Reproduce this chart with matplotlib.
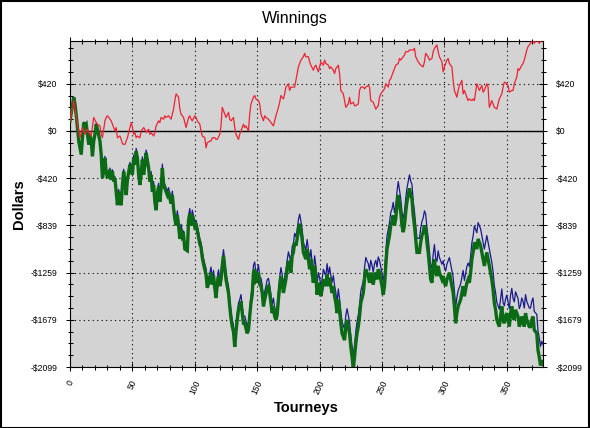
import matplotlib
matplotlib.use('Agg')
import matplotlib.pyplot as plt
from matplotlib.ticker import FixedLocator, FixedFormatter
from matplotlib.patches import Rectangle

plt.rcParams['font.family'] = ['Liberation Sans', 'DejaVu Sans']

# ---------------- data ----------------
# Net / gross winnings, tourney numbers shared by the green and blue series
tourney = [
    0, 3, 4, 6, 7, 9, 10, 11, 12, 13,
    14, 15, 16, 17, 18, 19, 20, 21, 22, 24,
    25, 26, 27, 28, 29, 30, 32, 33, 34, 35,
    36, 37, 38, 39, 40, 41, 42, 43, 44, 45,
    46, 48, 49, 50, 51, 52, 53, 54, 55, 56,
    57, 58, 59, 60, 61, 63, 64, 65, 66, 67,
    68, 69, 70, 71, 72, 73, 74, 75, 76, 78,
    79, 80, 81, 82, 83, 84, 85, 86, 87, 88,
    89, 90, 91, 92, 94,
    95, 96, 97, 98, 100, 101, 102, 103, 104, 105,
    106, 107, 108, 109, 110, 112, 113, 114, 115, 116,
    117, 118, 119, 120, 121, 122, 123, 124, 125, 127,
    128, 129, 130, 131, 132, 133, 134, 135, 136, 137,
    138, 139, 140, 142, 143, 144, 145, 146, 147, 148,
    149, 150, 151, 152, 153, 154, 155, 156, 158, 159,
    160, 161, 162, 163, 164, 165, 166, 167, 168, 169,
    170, 171, 173, 174, 175, 176, 177, 178, 179, 180,
    181, 182, 183, 184, 185, 186, 187, 189, 190,
    191, 192, 193, 194, 195, 196, 197, 198, 199, 200,
    201, 202, 203, 205, 206, 207, 208, 209, 210, 211,
    212, 213, 214, 215, 216, 217, 218, 220, 221, 222,
    223, 224, 225, 226, 227, 228, 229, 230, 231, 232,
    233, 235, 236, 237, 238, 239, 240, 241, 242, 243,
    244, 245, 246, 247, 248, 250, 251, 252, 253, 254,
    255, 256, 257, 258, 259, 260, 261, 262, 263, 265,
    266, 267, 268, 269, 270, 271, 272, 273, 274, 275,
    276, 277, 278, 280, 281, 282, 283, 284, 285, 286,
    287, 288, 289, 290, 291, 292, 293, 294, 295, 296,
    298, 299, 300, 301, 302, 303, 304, 305, 306, 307,
    308, 309, 310, 311, 313, 314, 315, 316, 317, 318,
    319, 320, 321, 322, 323, 324, 325, 326, 327, 329,
    330, 331, 332, 333, 334, 335, 336, 337, 338, 339,
    340, 341, 342, 344, 345, 346, 347, 348, 349, 350,
    351, 352, 353, 354, 355, 356, 357, 359, 360, 361,
    362, 363, 364, 365, 366, 367, 368, 369, 370, 371,
    372, 374, 375, 376, 377, 378, 379,
]

net_winnings = [
    90, 300, 240, 30, -90, -210, -60, 75, 45, 60,
    -30, -120, -30, -90, -225, -90, -30, 60, 15, -90,
    -210, -420, -360, -240, -360, -420, -345, -435, -360, -450,
    -420, -540, -660, -540, -630, -660, -480, -360, -450, -570,
    -435, -300, -330, -390, -240, -300, -180, -240, -390, -480,
    -390, -255, -390, -300, -195, -330, -450, -390, -540, -480,
    -630, -705, -555, -495, -630, -510, -330, -480, -510, -570,
    -540, -600, -645, -570, -690, -780, -840, -750, -840, -960,
    -870, -945, -930, -1050, -1065,
    -795, -735, -840, -750, -855, -840, -885, -945, -1005, -1035,
    -1125, -1185, -1230, -1275, -1395, -1320, -1260, -1365, -1290, -1395,
    -1485, -1365, -1290, -1380, -1320, -1200, -1110, -1215, -1320, -1440,
    -1560, -1665, -1740, -1785, -1920, -1785, -1680, -1590, -1560, -1515,
    -1620, -1710, -1710, -1800, -1770, -1650, -1530, -1455, -1260, -1230,
    -1335, -1320, -1260, -1365, -1380, -1440, -1560, -1500, -1395, -1380,
    -1440, -1530, -1620, -1560, -1650, -1680, -1635, -1500, -1380, -1290,
    -1350, -1440, -1320, -1230, -1155, -1200, -1260, -1110, -1080, -990,
    -1020, -960, -870, -825, -885, -960, -1080, -1140, -1050,
    -1140, -1230, -1140, -1260, -1350, -1200, -1290, -1455, -1350, -1395,
    -1470, -1410, -1320, -1380, -1275, -1380, -1305, -1380, -1440, -1380,
    -1470, -1530, -1620, -1500, -1590, -1710, -1800, -1860, -1740, -1680,
    -1740, -1800, -1920, -2010, -2115, -2010, -1890, -1800, -1740, -1650,
    -1530, -1440, -1320, -1230, -1260, -1290, -1350, -1260, -1305, -1365,
    -1290, -1260, -1320, -1230, -1260, -1380, -1455, -1380, -1200, -1050,
    -990, -930, -840, -810, -750, -840, -780, -660, -570, -720,
    -840, -900, -840, -720, -630, -570, -510, -570, -600, -750,
    -840, -960, -1080, -1080, -990, -930, -900, -840, -870, -990,
    -1080, -1200, -1320, -1350, -1230, -1140, -1260, -1290, -1200, -1260,
    -1320, -1290, -1350, -1380, -1320, -1290, -1260, -1320, -1380, -1440,
    -1560, -1710, -1620, -1560, -1500, -1440, -1380, -1470, -1410, -1350,
    -1320, -1350, -1260, -1140, -1080, -990, -1020, -1050, -960, -1020,
    -1080, -1140, -1200, -1140, -1080, -1140, -1200, -1260, -1320, -1410,
    -1530, -1590, -1680, -1740, -1650, -1560, -1680, -1710, -1650, -1620,
    -1680, -1740, -1620, -1560, -1650, -1680, -1590, -1650, -1740, -1710,
    -1650, -1680, -1740, -1620, -1680, -1710, -1740, -1740, -1680, -1650,
    -1770, -1800, -1950, -2010, -2085, -2040, -2070,
]

gross_winnings = [
    90, 300, 240, 35, -85, -205, -55, 80, 50, 65,
    -25, -115, -25, -80, -215, -80, -20, 70, 25, -80,
    -200, -410, -350, -225, -345, -405, -330, -420, -345, -435,
    -405, -525, -645, -520, -610, -640, -460, -340, -430, -550,
    -415, -280, -310, -365, -215, -275, -155, -215, -365, -455,
    -365, -230, -365, -275, -170, -300, -420, -360, -510, -450,
    -600, -675, -525, -465, -600, -475, -295, -445, -475, -535,
    -505, -565, -610, -535, -655, -740, -800, -710, -800, -920,
    -830, -905, -890, -1010, -1025,
    -750, -690, -795, -705, -810, -795, -840, -900, -960, -990,
    -1075, -1135, -1180, -1225, -1345, -1270, -1210, -1315, -1240, -1345,
    -1430, -1310, -1235, -1325, -1265, -1145, -1055, -1160, -1265, -1385,
    -1500, -1605, -1680, -1725, -1860, -1725, -1620, -1530, -1500, -1455,
    -1560, -1645, -1645, -1735, -1705, -1585, -1465, -1390, -1195, -1165,
    -1270, -1255, -1190, -1295, -1310, -1370, -1490, -1430, -1325, -1310,
    -1370, -1460, -1545, -1485, -1575, -1605, -1560, -1425, -1305, -1215,
    -1275, -1365, -1240, -1150, -1075, -1120, -1180, -1030, -1000, -910,
    -940, -880, -790, -740, -800, -875, -995, -1055, -965,
    -1055, -1145, -1055, -1175, -1260, -1110, -1200, -1365, -1260, -1305,
    -1380, -1320, -1230, -1290, -1180, -1285, -1210, -1285, -1345, -1285,
    -1375, -1435, -1525, -1405, -1495, -1610, -1700, -1760, -1640, -1580,
    -1640, -1700, -1820, -1910, -2015, -1905, -1785, -1695, -1635, -1545,
    -1425, -1335, -1215, -1125, -1155, -1180, -1240, -1150, -1195, -1255,
    -1180, -1150, -1210, -1120, -1150, -1265, -1340, -1265, -1085, -935,
    -875, -815, -725, -695, -635, -725, -665, -540, -450, -600,
    -720, -780, -720, -600, -510, -450, -390, -445, -475, -625,
    -715, -835, -955, -955, -865, -805, -775, -710, -740, -860,
    -950, -1070, -1190, -1220, -1100, -1010, -1130, -1160, -1065, -1125,
    -1185, -1155, -1215, -1245, -1185, -1155, -1125, -1185, -1240, -1300,
    -1420, -1570, -1480, -1420, -1360, -1300, -1240, -1330, -1265, -1205,
    -1175, -1205, -1115, -995, -935, -845, -875, -905, -815, -870,
    -930, -990, -1050, -990, -930, -990, -1050, -1110, -1170, -1255,
    -1375, -1435, -1525, -1585, -1495, -1405, -1525, -1555, -1495, -1460,
    -1520, -1580, -1460, -1400, -1490, -1520, -1430, -1490, -1580, -1550,
    -1485, -1515, -1575, -1455, -1515, -1545, -1575, -1575, -1515, -1485,
    -1605, -1630, -1780, -1840, -1915, -1870, -1900,
]

# Red series
red_tourney = [
    0, 3, 5, 8, 10, 12, 14, 17, 19, 21,
    22, 24, 25, 26, 28, 29, 30, 32, 33, 34,
    36, 37, 38, 40, 41, 42, 44, 45, 46, 48,
    49, 50, 51, 52, 53, 54, 56, 57, 59, 60,
    61, 63, 64, 65, 67, 68, 69, 71, 72, 73,
    75, 76, 77, 79, 80, 81, 83, 84, 85, 87,
    88, 89, 91, 92, 93,
    95, 96, 97, 98, 100, 101, 102, 104, 105, 106,
    108, 109, 110, 112, 113, 114, 116, 117, 118, 120,
    121, 122, 124, 125, 127, 128, 129, 131, 132, 133,
    135, 136, 137, 139, 140, 141, 143, 144, 145, 147,
    148, 149, 151, 152, 153, 155, 156, 157, 159, 160,
    161, 163, 164, 165, 167, 168, 169, 171, 172, 173,
    175, 176, 177, 179, 180, 181, 183, 184, 185, 187,
    188, 189,
    191, 192, 193, 195, 196, 197, 199, 200, 201, 203,
    204, 205, 207, 208, 209, 211, 212, 213, 215, 216,
    217, 219, 220, 221, 223, 224, 225, 227, 228, 229,
    231, 232, 233, 235, 236, 237, 239, 240, 241, 243,
    244, 245, 247, 248, 249, 251, 252, 253, 255, 256,
    257, 259, 260, 261, 263, 264, 265, 267, 268, 269,
    271, 272, 273, 275, 276, 277, 279, 280, 281, 283,
    284, 285,
    287, 288, 290, 291, 292, 294, 295, 296, 298, 299,
    300, 302, 303, 304, 306, 307, 308, 310, 311, 312,
    314, 315, 316, 318, 319, 320, 322, 323, 324, 326,
    327, 328, 330, 331, 332, 334, 335, 336, 338, 339,
    340, 342, 343, 344, 346, 347, 348, 350, 351, 352,
    354, 355, 356, 358, 359, 360, 362, 363, 364, 366,
    367, 368, 370, 371, 372, 374, 375, 376, 378, 379,
]

red_winnings = [
    90, 270, 120, -60, 30, -30, 15, -45, 120, 75,
    60, 45, -30, -60, 90, 120, 135, 105, 90, 60,
    0, 30, -60, -45, -75, -115, -120, -90, -60, 30,
    75, 35, -30, -15, -60, -45, -60, 0, 30, 15,
    -15, 15, -30, -15, -45, -15, 45, 90, 75, 120,
    105, 135, 120, 135, 120, 105, 195, 270, 330, 300,
    195, 150, 120, 75, 30,
    120, 135, 105, 90, 135, 120, 90, 60, 0, -45,
    -60, -150, -105, -90, -90, -60, -60, -75, -75, -30,
    45, 210, 150, 120, 165, 105, 90, 120, 30, -30,
    -75, -30, 0, 60, 30, 45, 0, 150, 240, 300,
    315, 285, 270, 240, 150, 90, 135, 120, 105, 90,
    75, 45, 90, 135, 210, 255, 315, 285, 330, 390,
    420, 360, 390, 390, 390, 450, 570, 600, 630, 660,
    690, 660,
    660, 615, 585, 540, 570, 585, 525, 570, 615, 585,
    630, 600, 585, 555, 570, 540, 510, 555, 585, 510,
    360, 330, 270, 210, 240, 300, 240, 255, 225, 225,
    240, 360, 390, 390, 375, 390, 405, 390, 270, 255,
    225, 195, 225, 300, 330, 360, 375, 420, 390, 450,
    465, 525, 555, 585, 600, 645, 630, 660, 675, 705,
    705, 720, 720, 720, 735, 660, 615, 600, 585, 570,
    615, 690,
    660, 630, 645, 705, 735, 765, 705, 660, 615, 525,
    570, 630, 645, 600, 570, 450, 360, 300, 360, 405,
    450, 330, 360, 300, 270, 285, 270, 285, 270, 420,
    390, 360, 405, 345, 360, 420, 390, 210, 270, 240,
    210, 195, 240, 285, 330, 390, 435, 420, 405, 345,
    360, 360, 420, 480, 555, 540, 585, 600, 630, 720,
    750, 765, 795, 810, 780, 810, 795, 780, 810, 825,
]

x_ticks = [0, 50, 100, 150, 200, 250, 300, 350]
x_labels = ['0', '50', '100', '150', '200', '250', '300', '350']
y_ticks = [-2099, -1679.2, -1259.4, -839.6, -419.8, 0, 419.8]
y_labels = ['-\\$2099', '-\\$1679', '-\\$1259', '-\\$839', '-\\$420', '\\$0', '\\$420']

# ---------------- figure ----------------
fig = plt.figure(figsize=(5.9, 4.28), dpi=100)
fig.patch.set_facecolor('white')
ax = fig.add_axes([70 / 590, 61 / 428, 473 / 590, 326 / 428])
ax.set_facecolor('#D3D3D3')
ax.set_xlim(0, 379)
ax.set_ylim(-2099, 800)

ax.xaxis.set_major_locator(FixedLocator(x_ticks))
ax.xaxis.set_major_formatter(FixedFormatter(x_labels))
ax.xaxis.set_minor_locator(FixedLocator(list(range(0, 380, 10))))
ax.yaxis.set_major_locator(FixedLocator(y_ticks))
ax.yaxis.set_major_formatter(FixedFormatter(y_labels))
ax.yaxis.set_minor_locator(FixedLocator([-2099 + 104.95 * k for k in range(28)]))

ax.tick_params(which='both', direction='inout', top=True, right=True,
               labelright=True, colors='black', width=0.75)
ax.tick_params(which='major', length=6)
ax.tick_params(which='minor', length=3.6)
ax.tick_params(axis='y', which='major', labelsize=6.2, pad=6)
ax.tick_params(axis='x', which='major', labelsize=6.2, pad=5.5)
for lab in ax.get_xticklabels():
    lab.set_rotation(65)
    lab.set_ha('center')

for s in ax.spines.values():
    s.set_linewidth(0.8)
    s.set_color('black')

ax.grid(which='major', color='black', linestyle=(0, (1, 3)), linewidth=0.8)
ax.set_axisbelow(True)
ax.axhline(0, color='black', linewidth=1.0, zorder=2.5)

ax.plot(tourney, gross_winnings, color='#1a1a8c', linewidth=0.9, zorder=3)
ax.plot(tourney, net_winnings, color='#0b6a16', linewidth=2.4, zorder=4,
        solid_joinstyle='miter')
ax.plot(red_tourney, red_winnings, color='#ee2233', linewidth=0.9, zorder=5)

fig.text(0.5, 1 - 19 / 428, 'Winnings', ha='center', va='center', fontsize=11.5)
fig.text(19 / 590, 1 - 204 / 428, 'Dollars', rotation=90, ha='center',
         va='center', fontsize=10.5, fontweight='bold')
fig.text(306 / 590, 1 - 408 / 428, 'Tourneys', ha='center', va='center',
         fontsize=10.5, fontweight='bold')

fig.patches.append(Rectangle((0.001, 0.001), 0.997, 0.996, transform=fig.transFigure,
                             fill=False, edgecolor='black', linewidth=1.5))

fig.savefig('out.png', dpi=100)
